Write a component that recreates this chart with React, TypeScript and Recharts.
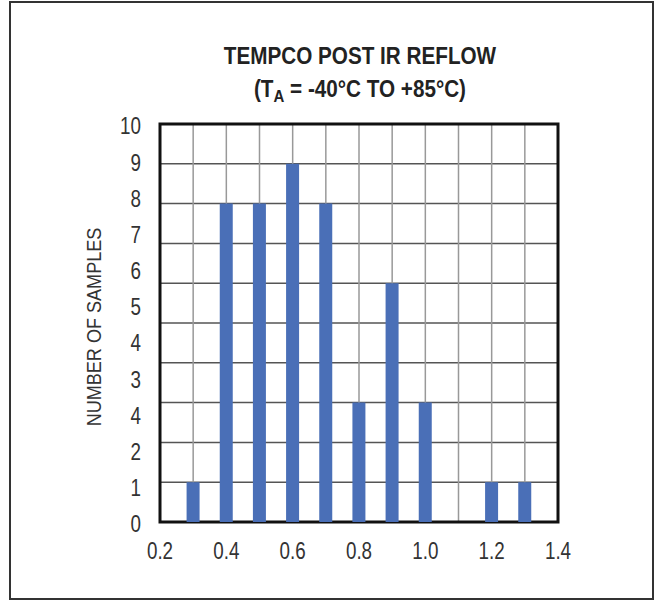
import { BarChart, Bar, XAxis, YAxis, CartesianGrid, ReferenceArea } from "recharts"

const tempco = [0.3, 0.4, 0.5, 0.6, 0.7, 0.8, 0.9, 1.0, 1.2, 1.3]
const samples = [1, 8, 8, 9, 8, 3, 6, 3, 1, 1]
const xTicks = [0.2, 0.4, 0.6, 0.8, 1.0, 1.2, 1.4]
const gridX = [0.3, 0.4, 0.5, 0.6, 0.7, 0.8, 0.9, 1.0, 1.1, 1.2, 1.3]
const gridY = [1, 2, 3, 4, 5, 6, 7, 8, 9]
// the printed axis has 12 labels (with a stray "4"), spread evenly over 0..10
const yTickLabels = ["0", "1", "2", "4", "3", "4", "5", "6", "7", "8", "9", "10"]

const data = tempco.map((x, i) => ({ x, n: samples[i] }))
const yTickSlots = yTickLabels.map((_, i) => (i * 10) / (yTickLabels.length - 1))

const font = "'Liberation Sans', Arial, sans-serif"
const narrow = 0.8
const tickSize = 23.5

const XTick = (props: any) => {
    const { x, y, payload } = props
    return (
        <g transform={`translate(${x},${y})`}>
            <text transform={`scale(${narrow},1)`} textAnchor="middle" dy="0.71em" fontSize={tickSize} fontFamily={font} fill="#333">
                {Number(payload.value).toFixed(1)}
            </text>
        </g>
    )
}

const YTick = (props: any) => {
    const { x, y, index } = props
    return (
        <g transform={`translate(${x},${y + 2})`}>
            <text transform={`scale(${narrow},1)`} textAnchor="end" dy="0.355em" fontSize={tickSize} fontFamily={font} fill="#333">
                {yTickLabels[index]}
            </text>
        </g>
    )
}

const hLines = ({ yAxis, offset }: any) =>
    gridY.map((v) =>
        yAxis && typeof yAxis.scale === "function" ? yAxis.scale(v) : offset.top + offset.height * (1 - v / 10)
    )

const vLines = ({ xAxis, offset }: any) =>
    gridX.map((v) =>
        xAxis && typeof xAxis.scale === "function"
            ? xAxis.scale(v)
            : offset.left + (offset.width * (v - 0.2)) / 1.2
    )

export default function App() {
    return (
        <div style={{ position: "absolute", left: 0, top: 0, width: 655, height: 600, fontFamily: font, background: "#fff" }}>
            <BarChart
                width={655}
                height={600}
                data={data}
                margin={{ top: 124, right: 97, bottom: 48, left: 90 }}
                style={{ position: "absolute", left: 0, top: 0 }}
            >
                <CartesianGrid vertical={false} horizontalCoordinatesGenerator={hLines} stroke="#555" strokeWidth={1.5} />
                <CartesianGrid horizontal={false} verticalCoordinatesGenerator={vLines} stroke="#999" strokeWidth={1.5} />
                <XAxis
                    dataKey="x"
                    type="number"
                    domain={[0.2, 1.4]}
                    ticks={xTicks}
                    axisLine={false}
                    tickLine={false}
                    tickSize={0}
                    tickMargin={20}
                    height={30}
                    tick={<XTick />}
                />
                <YAxis
                    type="number"
                    domain={[0, 10]}
                    ticks={yTickSlots}
                    interval={0}
                    axisLine={false}
                    tickLine={false}
                    tickSize={0}
                    tickMargin={19}
                    width={70}
                    tick={<YTick />}
                />
                <Bar dataKey="n" fill="#4a6fb7" barSize={13} isAnimationActive={false} />
                <ReferenceArea
                    x1={0.2}
                    x2={1.4}
                    y1={0}
                    y2={10}
                    fill="none"
                    fillOpacity={0}
                    stroke="#111"
                    strokeWidth={3}
                />
            </BarChart>
            <div
                style={{
                    position: "absolute",
                    left: 160,
                    width: 400,
                    top: 40,
                    textAlign: "center",
                    fontWeight: "bold",
                    fontSize: 23.5,
                    lineHeight: "33px",
                    color: "#222",
                    transform: "scaleX(0.88)",
                }}
            >
                <div>TEMPCO POST IR REFLOW</div>
                <div>
                    (T<sub style={{ fontSize: 17, verticalAlign: -5 }}>A</sub> = -40°C TO +85°C)
                </div>
            </div>
            <div
                style={{
                    position: "absolute",
                    left: 94,
                    top: 327,
                    transform: "translate(-50%, -50%) rotate(-90deg) scaleX(0.86)",
                    whiteSpace: "nowrap",
                    fontSize: 21,
                    lineHeight: "24px",
                    color: "#333",
                }}
            >
                NUMBER OF SAMPLES
            </div>
            <div
                style={{
                    position: "absolute",
                    left: 9,
                    top: 1,
                    width: 641,
                    height: 595,
                    border: "2px solid #333",
                    pointerEvents: "none",
                }}
            />
        </div>
    )
}
